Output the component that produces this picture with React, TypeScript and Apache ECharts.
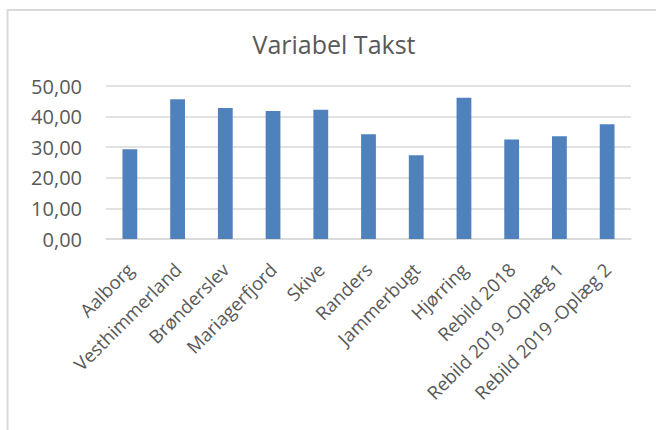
import React, { useEffect, useRef } from "react";
import * as echarts from "echarts";

const categories = [
  "Aalborg",
  "Vesthimmerland",
  "Brønderslev",
  "Mariagerfjord",
  "Skive",
  "Randers",
  "Jammerbugt",
  "Hjørring",
  "Rebild 2018",
  "Rebild 2019 -Oplæg 1",
  "Rebild 2019 -Oplæg 2",
];
const values = [29.3, 45.7, 42.8, 41.8, 42.2, 34.2, 27.4, 46.2, 32.5, 33.6, 37.5];
const title = "Variabel Takst";

const FONT = "'Open Sans', 'Noto Sans', sans-serif";

export default function App() {
  const ref = useRef<HTMLDivElement>(null);
  useEffect(() => {
    if (!ref.current) return;
    const chart = echarts.init(ref.current, undefined, { renderer: "svg" });
    chart.setOption({
      animation: false,
      backgroundColor: "#ffffff",
      graphic: [
        {
          type: "rect",
          shape: { x: 7.5, y: 10, width: 700, height: 500 },
          style: { fill: "none", stroke: "#d9d9d9", lineWidth: 2 },
          silent: true,
        },
        {
          type: "text",
          x: 334,
          y: 31,
          style: {
            text: title,
            fill: "#595959",
            font: `25px ${FONT}`,
            align: "center",
            verticalAlign: "top",
          },
          silent: true,
        },
      ],
      grid: { left: 106, right: 25, top: 86, bottom: 191, containLabel: false },
      xAxis: {
        type: "category",
        data: categories,
        axisLine: { show: true, lineStyle: { color: "#d9d9d9", width: 1.5 } },
        axisTick: { show: false },
        axisLabel: {
          rotate: 45,
          interval: 0,
          margin: 27,
          color: "#595959",
          fontFamily: FONT,
          fontSize: 18.5,
        },
      },
      yAxis: {
        type: "value",
        min: 0,
        max: 50,
        interval: 10,
        axisLine: { show: false },
        axisTick: { show: false },
        splitLine: { lineStyle: { color: "#d9d9d9", width: 1.5 } },
        axisLabel: {
          margin: 24,
          color: "#595959",
          fontFamily: FONT,
          fontSize: 20,
          formatter: (v: number) => v.toFixed(2).replace(".", ","),
        },
      },
      series: [
        {
          type: "bar",
          data: values,
          barWidth: "31%",
          itemStyle: { color: "#4f81bd" },
        },
      ],
    });
    return () => chart.dispose();
  }, []);
  return (
    <div
      ref={ref}
      style={{ position: "fixed", left: 0, top: 0, width: 656, height: 430 }}
    />
  );
}
